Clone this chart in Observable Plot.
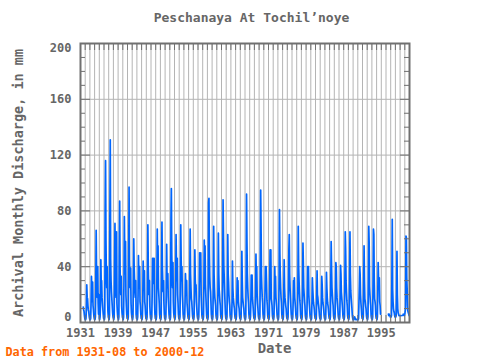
<!DOCTYPE html>
<html><head><meta charset="utf-8">
<script src="https://cdn.jsdelivr.net/npm/d3@7"></script>
<script src="https://cdn.jsdelivr.net/npm/@observablehq/plot@0.6"></script>
<style>html,body{margin:0;padding:0;background:#fff;}</style>
</head><body><div id="chart"></div>
<script>
// Monthly discharge (mm), Jan..Dec, one row per year
const q1931_1940 = [
  [null,null,null,null,null,null,null,11,9,8,5,3],
  [2,2,3,9,27,18,17,12,9,8,5,3],
  [2,2,3,14,33,22,15,29,12,9,5,3],
  [2,2,4,25,66,35,20,18,40,14,6,20],
  [3,2,4,12,45,25,30,18,14,10,6,3],
  [3,2,4,80,116,60,35,25,40,18,8,4],
  [3,2,5,76,131,45,30,22,17,12,7,4],
  [3,2,4,40,71,35,25,18,65,14,8,4],
  [3,2,4,47,87,40,25,20,33,12,7,4],
  [3,2,4,30,76,45,35,58,20,12,6,3]
];
const q1941_1950 = [
  [3,2,4,40,97,45,30,25,39,14,7,4],
  [3,2,4,25,60,40,30,22,18,30,6,3],
  [3,2,4,20,48,30,25,40,15,12,6,3],
  [3,2,4,15,44,30,25,37,15,12,6,3],
  [3,2,4,25,70,40,25,20,30,12,6,3],
  [3,2,4,20,46,30,46,28,46,14,6,3],
  [3,2,4,30,67,40,55,25,20,14,6,3],
  [3,2,4,40,72,40,30,22,30,14,6,3],
  [3,2,4,20,56,30,25,35,18,12,6,3],
  [3,2,4,74,96,50,30,25,43,15,7,4]
];
const q1951_1960 = [
  [3,2,4,25,63,40,30,46,20,14,6,3],
  [3,2,4,30,70,45,30,40,20,14,6,3],
  [3,2,4,15,35,25,20,30,14,10,5,3],
  [3,2,4,30,67,35,25,17,15,10,5,3],
  [3,2,4,20,52,30,25,27,15,10,5,3],
  [3,2,4,20,50,35,30,50,20,12,5,3],
  [3,2,4,25,59,40,55,27,20,12,5,3],
  [3,2,4,86,89,50,33,25,22,15,6,3],
  [3,2,4,25,69,35,25,18,15,12,5,3],
  [3,2,4,25,64,35,24,20,15,12,5,3]
];
const q1961_1970 = [
  [3,2,4,30,88,62,40,32,22,14,6,3],
  [3,2,4,25,63,35,29,20,15,12,5,3],
  [3,2,4,15,44,25,18,15,12,10,5,3],
  [3,2,4,15,32,22,30,15,12,10,5,3],
  [3,2,4,20,51,30,18,15,12,10,5,3],
  [3,2,4,35,92,58,35,25,18,14,6,3],
  [3,2,4,15,34,25,34,18,14,10,5,3],
  [3,2,4,20,49,30,40,20,14,10,5,3],
  [3,2,4,35,95,69,35,25,18,14,6,3],
  [3,2,4,20,40,30,40,29,16,12,5,3]
];
const q1971_1980 = [
  [3,2,4,25,52,35,52,17,15,12,5,3],
  [3,2,4,20,40,25,33,18,14,10,5,3],
  [3,2,4,30,81,50,35,25,18,14,6,3],
  [3,2,4,20,45,25,18,15,12,10,5,3],
  [3,2,4,25,52,63,35,25,18,12,6,3],
  [3,2,4,15,30,22,32,18,14,10,5,3],
  [3,2,4,25,69,40,30,22,16,12,5,3],
  [3,2,4,25,57,41,25,20,15,12,5,3],
  [3,2,4,20,40,30,40,20,14,10,5,3],
  [3,2,3,15,32,24,18,14,12,9,5,3]
];
const q1981_1990 = [
  [3,2,3,15,37,20,18,14,12,9,5,3],
  [3,2,3,15,33,27,18,14,12,9,5,3],
  [3,2,3,15,36,25,18,14,12,9,5,3],
  [3,2,4,25,58,40,25,20,15,12,5,3],
  [3,2,4,20,43,40,25,18,14,10,5,3],
  [3,2,4,20,41,35,22,18,14,10,5,3],
  [3,2,4,30,65,52,30,22,16,12,5,3],
  [3,2,4,30,65,35,23,18,14,10,5,3],
  [2,2,2,3,4,3,3,2,2,2,2,2],
  [2,2,3,15,26,40,34,20,14,10,5,3]
];
const q1991_2000 = [
  [3,2,4,25,55,30,17,15,12,10,5,3],
  [3,2,4,30,69,57,26,20,15,12,5,3],
  [3,2,4,30,67,63,30,17,15,12,5,3],
  [3,2,4,20,43,31,25,32,15,12,6,null],
  [null,null,null,null,null,null,null,null,null,null,null,null],
  [null,null,null,null,null,null,6,5,6,5,5,4],
  [4,4,5,30,74,24,15,10,8,7,5,4],
  [4,4,5,20,51,20,10,7,6,5,5,5],
  [5,5,5,5,null,null,null,5,6,null,null,5],
  [6,8,10,62,61,32,24,12,8,7,6,5]
];
const firstYear = 1931;
const xTickYears = [1931,1939,1947,1955,1963,1971,1979,1987,1995];
const yTickValues = [0,40,80,120,160,200];
const titleText = "Peschanaya At Tochil\u2019noye";
const yLabelText = "Archival Monthly Discharge, in mm";
const xLabelText = "Date";
const captionText = "Data from 1931-08 to 2000-12";

const rows = [].concat(q1931_1940, q1941_1950, q1951_1960, q1961_1970, q1971_1980, q1981_1990, q1991_2000);
const series = [];
rows.forEach((r, i) => r.forEach((v, m) => series.push({t: firstYear + i + m / 12, v})));

const W = 480, H = 360, mL = 80, mR = 71, mT = 43, mB = 38;
const pw = W - mL - mR, ph = H - mT - mB;
const allYears = d3.range(1931, 2002);
const innerYears = d3.range(1932, 2001);
const minorY = d3.range(10, 200, 10).filter(d => d % 40 !== 0);
const majorY = [40, 80, 120, 160];
const grey = "#707070", gridC = "#b4b4b4", textC = "#666666";
const font = "'DejaVu Sans Mono', monospace";

const chart = Plot.plot({
  width: W, height: H,
  marginLeft: mL, marginRight: mR, marginTop: mT, marginBottom: mB,
  style: {background: "#fff", fontFamily: font, fontWeight: "bold", color: textC, overflow: "visible"},
  x: {domain: [1931, 2001], axis: null},
  y: {domain: [0, 200], axis: null},
  marks: [
    Plot.ruleX(innerYears, {stroke: gridC, strokeWidth: 1}),
    Plot.ruleY(majorY, {stroke: gridC, strokeWidth: 1}),
    Plot.line(series, {x: "t", y: "v", stroke: "#0066ff", strokeWidth: 1.7}),
    Plot.tickX(allYears, {x: d => d, insetBottom: ph - 7, stroke: grey}),
    Plot.tickX(allYears, {x: d => d, insetTop: ph - 7, stroke: grey}),
    Plot.tickY(minorY, {y: d => d, insetRight: pw - 5, stroke: grey}),
    Plot.tickY(majorY, {y: d => d, insetRight: pw - 10, stroke: grey}),
    Plot.tickY(minorY, {y: d => d, insetLeft: pw - 5, stroke: grey}),
    Plot.tickY(majorY, {y: d => d, insetLeft: pw - 9, stroke: grey}),
    Plot.frame({stroke: grey, strokeWidth: 2}),
    Plot.text(xTickYears, {x: d => d, text: d => String(d), frameAnchor: "bottom", textAnchor: "middle", lineAnchor: "middle", dy: 11, fontSize: 12, fill: textC}),
    Plot.text(yTickValues.filter(d => d > 0 && d < 200), {y: d => d, text: d => String(d), frameAnchor: "left", textAnchor: "end", lineAnchor: "middle", dx: -9, fontSize: 12, fill: textC}),
    Plot.text(yTickValues.filter(d => d === 200), {y: d => d, text: d => String(d), frameAnchor: "left", textAnchor: "end", lineAnchor: "middle", dx: -9, dy: 5, fontSize: 12, fill: textC}),
    Plot.text(yTickValues.filter(d => d === 0), {y: d => d, text: d => String(d), frameAnchor: "left", textAnchor: "end", lineAnchor: "middle", dx: -9, dy: -5, fontSize: 12, fill: textC}),
    Plot.text([titleText], {frameAnchor: "top", textAnchor: "middle", lineAnchor: "middle", dx: 6.5, dy: -26, fontSize: 13, fill: textC}),
    Plot.text([yLabelText], {frameAnchor: "left", textAnchor: "middle", lineAnchor: "middle", rotate: -90, dx: -62, fontSize: 13.5, fill: textC}),
    Plot.text([xLabelText], {frameAnchor: "bottom", textAnchor: "middle", lineAnchor: "middle", dx: 29.5, dy: 26, fontSize: 14, fill: textC}),
    Plot.text([captionText], {frameAnchor: "bottom-left", textAnchor: "start", lineAnchor: "middle", dx: -75, dy: 30, fontSize: 11.8, fill: "#ff6600"})
  ]
});
document.getElementById("chart").appendChild(chart);
</script>
</body></html>
